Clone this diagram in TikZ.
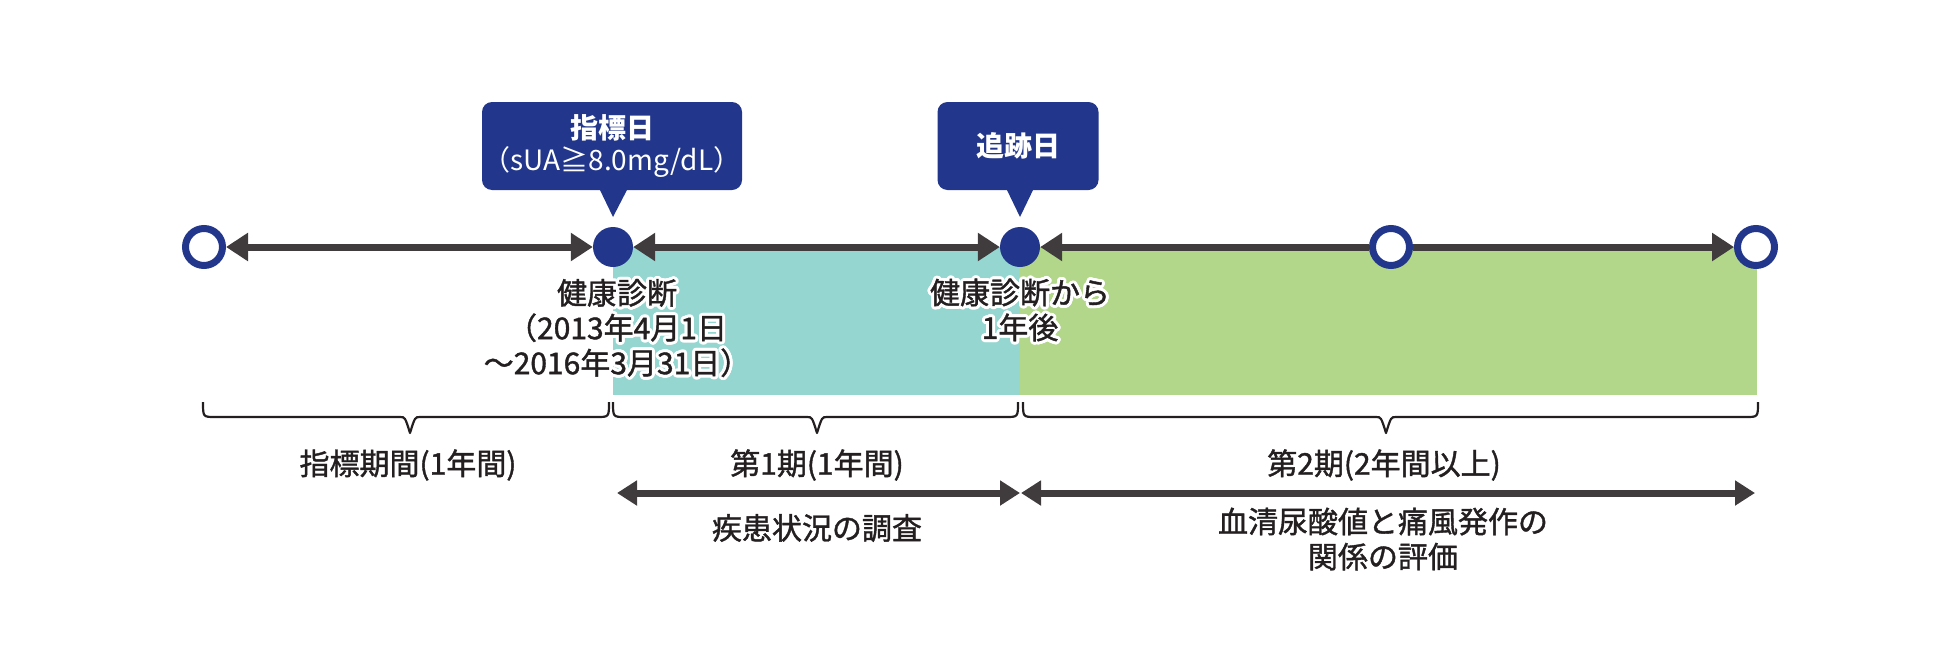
\documentclass[tikz,border=0pt]{standalone}
\usepackage{fontspec}
\setmainfont{Noto Sans CJK JP}
\newfontfamily\medfont{Noto Sans CJK JP}[FakeBold=1.3]
\usetikzlibrary{arrows.meta}
\definecolor{navy}{HTML}{22378B}
\definecolor{tealbg}{HTML}{95D6D1}
\definecolor{greenbg}{HTML}{B3D78A}
\definecolor{arrowgray}{HTML}{403C3D}
\definecolor{txt}{HTML}{231F20}
\newcommand{\halolabel}[3]{%
  \foreach \ang in {0,20,...,340}{\node[lbl,text=white,shift={(\ang:3pt)}] at (#1) {#3};}
  \node[lbl] (#2) at (#1) {#3};}
\begin{document}
\begin{tikzpicture}[x=1pt,y=-1pt,
  opendot/.style={circle, draw=navy, line width=7pt, fill=white, minimum size=37pt, inner sep=0pt},
  filldot/.style={circle, fill=navy, minimum size=40pt, inner sep=0pt},
  tlarrow/.style={draw=arrowgray, line width=7pt, >={Triangle[length=22pt,width=27pt]}},
  botarrow/.style={draw=arrowgray, line width=7pt, >={Triangle[length=20pt,width=24pt]}},
  lbl/.style={font=\medfont\fontsize{30}{35}\selectfont, text=txt, align=center, inner sep=0pt},
  callbox/.style={fill=navy, rounded corners=10pt, text=white, align=center, inner sep=0pt,
    font=\fontsize{28}{32}\selectfont},
  bracestyle/.style={draw=txt, line width=2.2pt, line join=round}
]
\useasboundingbox (0,0) rectangle (1960,672);
% background bands
\fill[tealbg] (613,247) rectangle (1020,395);
\fill[greenbg] (1020,247) rectangle (1757,395);
% callouts
\node[callbox, minimum width=260pt, minimum height=88pt] (cb1) at (612,146) {{\bfseries 指標日}\\（sUA≧8.0mg/dL）};
\fill[navy] (599,188) -- (613,217) -- (628,188) -- cycle;
\node[callbox, minimum width=161pt, minimum height=88pt] (cb2) at (1018,146) {\bfseries 追跡日};
\fill[navy] (1006,188) -- (1020,217) -- (1034,188) -- cycle;
% timeline dots
\node[opendot] (c0) at (204,247) {};
\node[filldot] (d1) at (613,247) {};
\node[filldot] (d2) at (1020,247) {};
\node[opendot] (c3) at (1391,247) {};
\node[opendot] (c4) at (1756,247) {};
\draw[tlarrow,<->] (c0) -- (d1);
\draw[tlarrow,<->] (d1) -- (d2);
\draw[tlarrow,<-] (d2) -- (c3);
\draw[tlarrow,->] (c3) -- (c4);
% labels under dots (with white halo)
\halolabel{617,328}{l1}{健康診断\\（2013年4月1日\\～2016年3月31日）}
\halolabel{1020,310}{l2}{健康診断から\\1年後}
% braces
\draw[bracestyle] (203,402) .. controls (203,417) .. (215,417) -- (400,417)
  .. controls (405,417) .. (410,433) .. controls (415,417) .. (420,417) -- (597,417)
  .. controls (609,417) .. (609,402);
\draw[bracestyle] (613,402) .. controls (613,417) .. (625,417) -- (807,417)
  .. controls (812,417) .. (817,433) .. controls (822,417) .. (827,417) -- (1006,417)
  .. controls (1018,417) .. (1018,402);
\draw[bracestyle] (1023,402) .. controls (1023,417) .. (1035,417) -- (1376,417)
  .. controls (1381,417) .. (1386,433) .. controls (1391,417) .. (1396,417) -- (1746,417)
  .. controls (1758,417) .. (1758,402);
% period labels
\node[lbl] (p0) at (408,465) {指標期間(1年間)};
\node[lbl] (p1) at (817,465) {第1期(1年間)};
\node[lbl] (p2) at (1384,465) {第2期(2年間以上)};
% bottom arrows
\coordinate (a1l) at (617,493);
\coordinate (a1r) at (1020,493);
\coordinate (a2l) at (1021,493);
\coordinate (a2r) at (1755,493);
\draw[botarrow,<->] (a1l) -- (a1r);
\draw[botarrow,<->] (a2l) -- (a2r);
\node[lbl] (s1) at (817,528) {疾患状況の調査};
\node[lbl] (s2) at (1383,539) {血清尿酸値と痛風発作の\\関係の評価};
\end{tikzpicture}
\end{document}
